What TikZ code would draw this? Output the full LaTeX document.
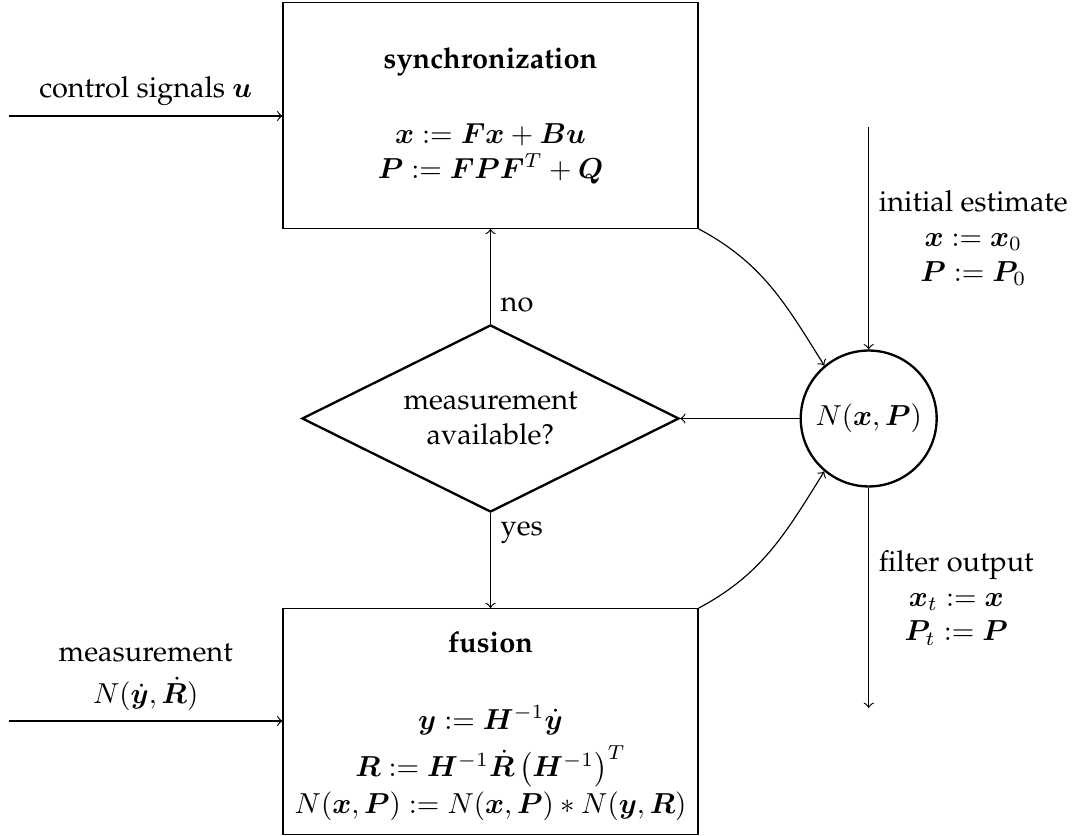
\documentclass[tikz,border=0pt]{standalone}
\usepackage[T1]{fontenc}
\usepackage{palatino}
\usepackage{amsmath,bm}
\usetikzlibrary{shapes.geometric}
\tikzset{
  blockbox/.style={draw, rectangle, align=center, inner sep=0pt, minimum width=143.5pt, minimum height=78pt},
  decide/.style={draw, thick, diamond, aspect=2, align=center, inner sep=0pt, minimum width=130.4pt, minimum height=64.7pt},
  statecirc/.style={draw, thick, circle, inner sep=0pt, minimum size=47pt},
  flow/.style={->},
  lbl/.style={align=center}
}
\begin{document}
\begin{tikzpicture}[x=0.3458pt, y=-0.3458pt]
\useasboundingbox (0,0) rectangle (1082,836);
\node[blockbox] (sync) at (490.5,115.5) {\textbf{synchronization}\\[1.4em]
  $\bm{x} := \bm{F}\bm{x} + \bm{B}\bm{u}$\\
  $\bm{P} := \bm{F}\bm{P}\bm{F}^T + \bm{Q}$};
\node[blockbox] (fus) at (490.5,721.5) {\rule{0pt}{10.5pt}\textbf{fusion}\\[14.6pt]
  $\bm{y} := \bm{H}^{-1}\dot{\bm{y}}$\\[2.8pt]
  $\bm{R} := \bm{H}^{-1}\dot{\bm{R}}\left(\bm{H}^{-1}\right)^T$\\[0.8pt]
  $N(\bm{x},\bm{P}) := N(\bm{x},\bm{P}) * N(\bm{y},\bm{R})$};
\node[decide] (dec) at (490.5,418.5) {measurement\\available?};
\node[statecirc] (st) at (868.7,418.5) {$N(\bm{x},\bm{P})$};
\coordinate (cin) at (9,116);
\coordinate (min) at (9,721);
\coordinate (iin) at (868.7,127);
\coordinate (fout) at (868.7,708);
\draw[flow] (cin) -- node[above, lbl] {control signals $\bm{u}$} (cin -| sync.west);
\draw[flow] (min) -- node[above, lbl] {measurement\\[2.5pt]$N(\dot{\bm{y}},\dot{\bm{R}})$} (min -| fus.west);
\draw[flow] (dec.north) -- node[pos=0.2, right, lbl] {no} (sync.south);
\draw[flow] (dec.south) -- node[pos=0.2, right, lbl] {yes} (fus.north);
\draw[flow] (st.west) -- (dec.east);
\draw[flow] (iin) -- node[right, lbl] {initial estimate\\$\bm{x} := \bm{x}_0$\\$\bm{P} := \bm{P}_0$} (st.north);
\draw[flow] (st.south) -- node[right, lbl] {filter output\\$\bm{x}_t := \bm{x}$\\$\bm{P}_t := \bm{P}$} (fout);
\draw[flow] (sync.south east) to[out=-28, in=122] (st.130);
\draw[flow] (fus.north east) to[out=28, in=-122] (st.230);
\end{tikzpicture}
\end{document}
